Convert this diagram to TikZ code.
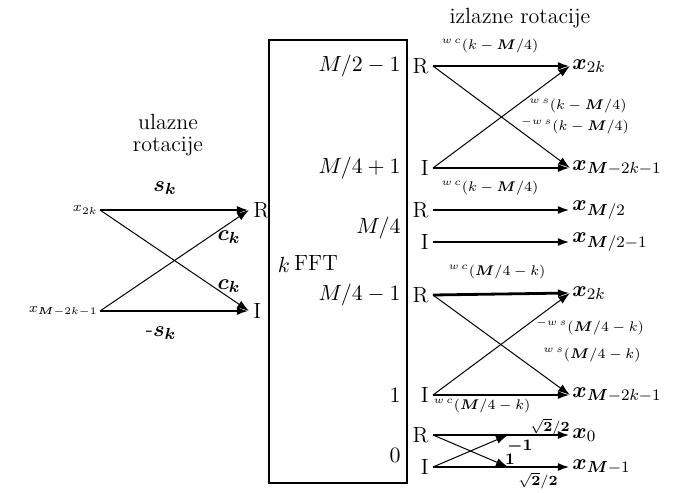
\documentclass[tikz,border=0pt]{standalone}
\usepackage{amsmath}
\usepackage{amssymb}
\usepackage{xcolor}
\usepackage{tikz}
\usetikzlibrary{arrows.meta,positioning}

\newcommand{\wrot}[3]{{\fontsize{7}{8}\selectfont$^{#1w\,#2}(#3)$}}

\begin{document}
\begin{tikzpicture}[x=0.5pt, y=-0.5pt,
        every node/.style={font=\fontsize{11}{13}\selectfont, inner sep=1pt},
        port/.style={inner sep=2pt},
        lab/.style={font=\fontsize{8}{9}\selectfont},
        fat/.style={-{Latex[length=6pt, width=4pt]}, line width=1.4pt},
        thin/.style={-{Latex[length=6pt, width=4pt]}, line width=0.5pt}
    ]
        \useasboundingbox (0,0) rectangle (677,493);

        % FFT block
        \draw[line width=1.1pt] (269,40) rectangle (407,483);
        \node (k) at (284,265) {$k$};
        \node (fft) at (316,263) {FFT};
        \node[anchor=east] (n1) at (403,66) {$M/2-1$};
        \node[anchor=east] (n2) at (403,168) {$M/4+1$};
        \node[anchor=east] (n3) at (403,228) {$M/4$};
        \node[anchor=east] (n4) at (403,295) {$M/4-1$};
        \node[anchor=east] (n5) at (403,395) {$1$};
        \node[anchor=east] (n6) at (403,455) {$0$};

        % input rotations
        \node[align=center] (inrot) at (168,135) {ulazne\\[-2pt]rotacije};
        \node[anchor=east, font=\fontsize{7}{8}\selectfont] (xa) at (100,210) {$x_{2k}$};
        \node[anchor=east, font=\fontsize{7}{8}\selectfont] (xb) at (100,311) {$x_{\boldsymbol{M}-2k-1}$};
        \node[port, anchor=west] (inR) at (249,210) {R};
        \node[port, anchor=west] (inI) at (249,311) {I};
        \draw[fat] (xa.east) -- (inR.west);
        \draw[fat] (xb.east) -- (inI.west);
        \draw[thin] (xa.east) -- (inI.west);
        \draw[thin] (xb.east) -- (inR.west);
        \node (sk) at (165,188) {$\boldsymbol{s}_{\boldsymbol{k}}$};
        \node (msk) at (161,333) {-$\boldsymbol{s}_{\boldsymbol{k}}$};
        \node (cka) at (229,237) {$\boldsymbol{c}_{\boldsymbol{k}}$};
        \node (ckb) at (229,286) {$\boldsymbol{c}_{\boldsymbol{k}}$};

        % output rotations
        \node (outrot) at (520,18) {izlazne rotacije};
        \foreach \nm/\ry/\lt in {ra/66/R, ia/168/I, rb/210/R, ib/242/I,
                                 rc/295/R, ic/395/I, rd/435/R, id/467/I}
            \node[port, anchor=east] (\nm) at (433,\ry) {\lt};

        \node[anchor=west] (ya) at (570,66) {$\boldsymbol{x}_{2k}$};
        \node[anchor=west] (yb) at (570,168) {$\boldsymbol{x}_{\boldsymbol{M}-2k-1}$};
        \node[anchor=west] (yc) at (570,210) {$\boldsymbol{x}_{\boldsymbol{M}/2}$};
        \node[anchor=west] (yd) at (570,242) {$\boldsymbol{x}_{\boldsymbol{M}/2-1}$};
        \node[anchor=west] (ye) at (570,293) {$\boldsymbol{x}_{2k}$};
        \node[anchor=west] (yf) at (570,395) {$\boldsymbol{x}_{\boldsymbol{M}-2k-1}$};
        \node[anchor=west] (yg) at (570,435) {$\boldsymbol{x}_{0}$};
        \node[anchor=west] (yh) at (570,467) {$\boldsymbol{x}_{\boldsymbol{M}-1}$};

        \draw[fat] (ra.east) -- (ya.west);
        \draw[fat] (ia.east) -- (yb.west);
        \draw[thin] (ra.east) -- (yb.west);
        \draw[thin] (ia.east) -- (ya.west);
        \draw[fat] (rb.east) -- (yc.west);
        \draw[fat] (ib.east) -- (yd.west);
        \draw[fat] (rc.east) -- (ye.west);
        \draw[fat] (ic.east) -- (yf.west);
        \draw[thin] (rc.east) -- (yf.west);
        \draw[thin] (ic.east) -- (ye.west);

        \coordinate (hd) at (508,435);
        \coordinate (hu) at (508,467);
        \draw[fat] (rd.east) -- (yg.west);
        \draw[fat] (id.east) -- (yh.west);
        \draw[thin] (rd.east) -- (hu);
        \draw[thin] (id.east) -- (hd);

        % weights
        \node (wa) at (490,46) {\wrot{}{c}{k-\boldsymbol{M}/4}};
        \node (wb) at (578,106) {\wrot{}{s}{k-\boldsymbol{M}/4}};
        \node (wc) at (575,126) {\wrot{-}{s}{k-\boldsymbol{M}/4}};
        \node (wd) at (490,188) {\wrot{}{c}{k-\boldsymbol{M}/4}};
        \node (we) at (497,272) {\wrot{}{c}{\boldsymbol{M}/4-k}};
        \node (wf) at (590,327) {\wrot{-}{s}{\boldsymbol{M}/4-k}};
        \node (wg) at (592,355) {\wrot{}{s}{\boldsymbol{M}/4-k}};
        \node[inner sep=0pt] (wh) at (482,406) {\wrot{}{c}{\boldsymbol{M}/4-k}};
        \node[font=\fontsize{7}{8}\selectfont, inner sep=0pt] (sa) at (550,427) {$\sqrt{\boldsymbol{2}}/\boldsymbol{2}$};
        \node[font=\fontsize{7}{8}\selectfont] (sb) at (538,481) {$\sqrt{\boldsymbol{2}}/\boldsymbol{2}$};
        \node[lab] (m1) at (520,446) {$\boldsymbol{-1}$};
        \node[lab] (p1) at (510,459) {$\boldsymbol{1}$};
    \end{tikzpicture}
\end{document}
